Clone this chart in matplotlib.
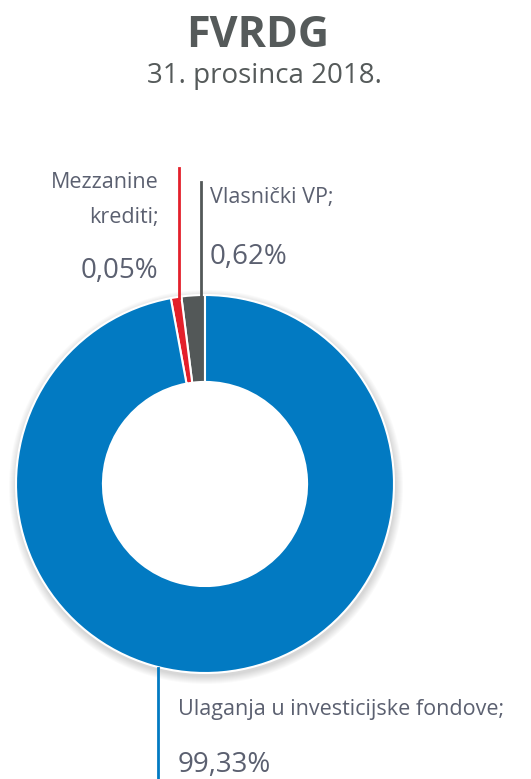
import matplotlib.pyplot as plt
from matplotlib.patches import Circle

# data (drawn shares, labels as printed)
categories = ['Vlasnički VP', 'Mezzanine krediti', 'Ulaganja u investicijske fondove']
drawn_share = [2.0, 0.9, 97.1]
label_pct = ['0,62%', '0,05%', '99,33%']
colors = ['#535858', '#e3202b', '#027ac2']

W, H = 531, 779
fig = plt.figure(figsize=(W / 100, H / 100), dpi=100)
ax = fig.add_axes([0, 0, 1, 1])

cx, cy, r = 205, H - 484, 189
hole = 0.54

# soft shadow behind the ring
for k in range(8):
    ax.add_patch(Circle((cx + 1, cy - 3), r + 1 + k, color='black', alpha=0.018, lw=0, zorder=0))
ax.add_patch(Circle((cx, cy), r * hole, color='white', lw=0, zorder=0.5))

ax.pie(drawn_share, colors=colors, startangle=90, counterclock=True,
       center=(cx, cy), radius=r, frame=True,
       wedgeprops=dict(width=r * (1 - hole), edgecolor='white', linewidth=1.5))

ax.set_xlim(0, W)
ax.set_ylim(0, H)
ax.set_aspect('equal')
ax.axis('off')

txt = '#5b6070'
font = 'Open Sans'

# title
ax.text(258, H - 47, 'FVRDG', ha='center', va='baseline', fontsize=31, fontweight='bold',
        color='#555a5a', family=font)
ax.text(264, H - 83, '31. prosinca 2018.', ha='center', va='baseline', fontsize=20,
        color='#555a5a', family=font)

# leader lines
ax.plot([201, 201], [H - 182, H - 296], color=colors[0], lw=2)
ax.plot([179, 179], [H - 168, H - 298], color=colors[1], lw=2)
ax.plot([158, 158], [H - 668, 0], color=colors[2], lw=2)

lab, pct = 15.5, 20

# labels
ax.text(159, H - 188, 'Mezzanine', ha='right', va='baseline', fontsize=lab, color=txt, family=font)
ax.text(159, H - 223, 'krediti;', ha='right', va='baseline', fontsize=lab, color=txt, family=font)
ax.text(158, H - 278, label_pct[1], ha='right', va='baseline', fontsize=pct, color=txt, family=font)

ax.text(210, H - 203, 'Vlasnički VP;', ha='left', va='baseline', fontsize=lab, color=txt, family=font)
ax.text(210, H - 264, label_pct[0], ha='left', va='baseline', fontsize=pct, color=txt, family=font)

ax.text(178, H - 715, 'Ulaganja u investicijske fondove;', ha='left', va='baseline', fontsize=lab,
        color=txt, family=font)
ax.text(178, H - 772, label_pct[2], ha='left', va='baseline', fontsize=pct, color=txt, family=font)

fig.savefig('out.png', dpi=100)
